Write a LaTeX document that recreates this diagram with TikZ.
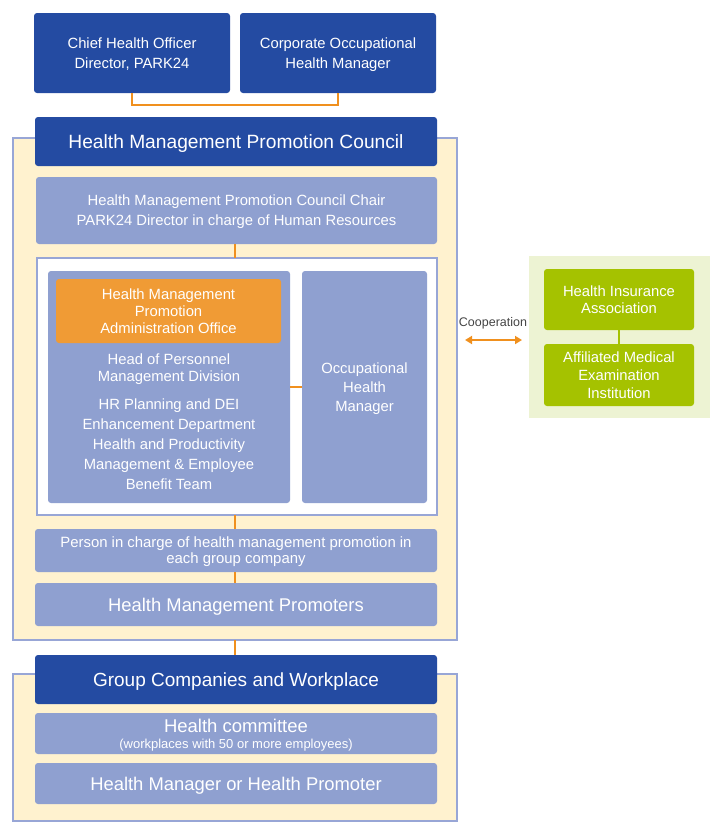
\documentclass[tikz,border=0pt]{standalone}
\usepackage{fontspec}
\setmainfont{Liberation Sans}
\usetikzlibrary{arrows.meta}
\definecolor{dblue}{HTML}{244BA2}
\definecolor{lav}{HTML}{8FA0D0}
\definecolor{lavline}{HTML}{98A6D6}
\definecolor{cream}{HTML}{FFF2CF}
\definecolor{obox}{HTML}{F09B35}
\definecolor{oline}{HTML}{F0901E}
\definecolor{gbox}{HTML}{A5C200}
\definecolor{gbg}{HTML}{EDF3D3}
\definecolor{coopgray}{HTML}{444444}
\newcommand\fs[2]{\fontsize{#1}{#2}\selectfont}
\begin{document}
\begin{tikzpicture}[x=1pt,y=-1pt,
  base/.style={rounded corners=3pt, inner sep=0pt, outer sep=0pt, align=center, text=white, text depth=0pt},
  dbox/.style={base, fill=dblue},
  lbox/.style={base, fill=lav},
  orbox/.style={base, fill=obox},
  grbox/.style={base, fill=gbox},
  outerbox/.style={fill=cream, draw=lavline, line width=1.5pt, inner sep=0pt, outer sep=0pt},
  txt/.style={inner sep=0pt, align=center, text=white, text depth=0pt},
  conn/.style={draw=oline, line width=2pt},
  gconn/.style={draw=gbox, line width=2pt},
  coop/.style={draw=oline, line width=2pt, {Triangle[width=8pt,length=7pt]}-{Triangle[width=8pt,length=7pt]}}
]
\useasboundingbox (0,0) rectangle (710,822);
% green background
\node[fill=gbg, inner sep=0pt, minimum width=181pt, minimum height=162pt] (gbgn) at (619.5,337) {};
% outer cream boxes
\node[outerbox, minimum width=444pt, minimum height=502pt] (out1) at (235,389) {};
\node[outerbox, minimum width=444pt, minimum height=147pt] (out2) at (235,747.5) {};
% top boxes
\node[dbox, minimum width=196pt, minimum height=80pt, font=\fs{14.8}{20}] (cho) at (132,53) {Chief Health Officer\\Director, PARK24};
\node[dbox, minimum width=196pt, minimum height=80pt, font=\fs{14.8}{20}] (chm) at (338,53) {Corporate Occupational\\Health Manager};
% council
\node[dbox, minimum width=402pt, minimum height=49pt, font=\fs{19.2}{23}] (council) at (236,141.5) {Health Management Promotion Council};
\node[lbox, minimum width=401pt, minimum height=67pt, font=\fs{14.8}{20}] (chair) at (236.5,210.5) {Health Management Promotion Council Chair\\PARK24 Director in charge of Human Resources};
% white frame
\node[fill=white, draw=lavline, line width=1.5pt, inner sep=0pt, outer sep=0pt, minimum width=400pt, minimum height=257pt] (white) at (237,386.5) {};
\node[lbox, minimum width=242pt, minimum height=232pt] (left) at (169,387) {};
\node[lbox, minimum width=125pt, minimum height=232pt, font=\fs{14.8}{19}] (right) at (364.5,387) {Occupational\\Health\\Manager};
\node[orbox, minimum width=225pt, minimum height=64pt, font=\fs{14.8}{17}] (office) at (168.5,311) {Health Management\\Promotion\\Administration Office};
\node[txt, font=\fs{14.8}{17}] (head) at (169,367.5) {Head of Personnel\\Management Division};
\node[txt, font=\fs{14.8}{20}] (hrp) at (169,444) {HR Planning and DEI\\Enhancement Department\\Health and Productivity\\Management \& Employee\\Benefit Team};
% lower council part
\node[lbox, minimum width=402pt, minimum height=43pt, font=\fs{14.9}{16}] (person) at (236,550.5) {Person in charge of health management promotion in\\each group company};
\node[lbox, minimum width=402pt, minimum height=43pt, font=\fs{18.4}{20}] (prom) at (236,604.5) {Health Management Promoters};
% group companies
\node[dbox, minimum width=402pt, minimum height=49pt, font=\fs{19}{22}] (group) at (236,679.5) {Group Companies and Workplace};
\node[lbox, minimum width=402pt, minimum height=41pt] (hc) at (236,733.5) {};
\node[txt, font=\fs{18.5}{20}] (hct) at (236,725.5) {Health committee};
\node[txt, font=\fs{13}{15}] (hcs) at (236,744) {(workplaces with 50 or more employees)};
\node[lbox, minimum width=402pt, minimum height=41pt, font=\fs{18.4}{20}] (hmgr) at (236,783.5) {Health Manager or Health Promoter};
% green boxes
\node[grbox, minimum width=150pt, minimum height=61pt, font=\fs{14.8}{16.5}] (hia) at (619,299.5) {Health Insurance\\Association};
\node[grbox, minimum width=150pt, minimum height=62pt, font=\fs{14.8}{18}] (amei) at (619,375) {Affiliated Medical\\Examination\\Institution};
% cooperation
\coordinate (coopL) at (465,340);
\coordinate (coopR) at (522,340);
\node[inner sep=0pt, text=coopgray, text depth=0pt, font=\fs{12.5}{14}] (cooplabel) at (493,322) {Cooperation};
% connectors
\draw[conn] (cho.south) -- ++(0,12) -| (chm.south);
\draw[conn] (out1.center |- chair.south) -- (out1.center |- white.north);
\draw[conn] (out1.center |- white.south) -- (out1.center |- person.north);
\draw[conn] (out1.center |- person.south) -- (out1.center |- prom.north);
\draw[conn] (out1.south) -- (out1.center |- group.north);
\draw[conn] (left.east) -- (right.west);
\draw[gconn] (hia.south) -- (amei.north);
\draw[coop] (coopL) -- (coopR);
\end{tikzpicture}
\end{document}
